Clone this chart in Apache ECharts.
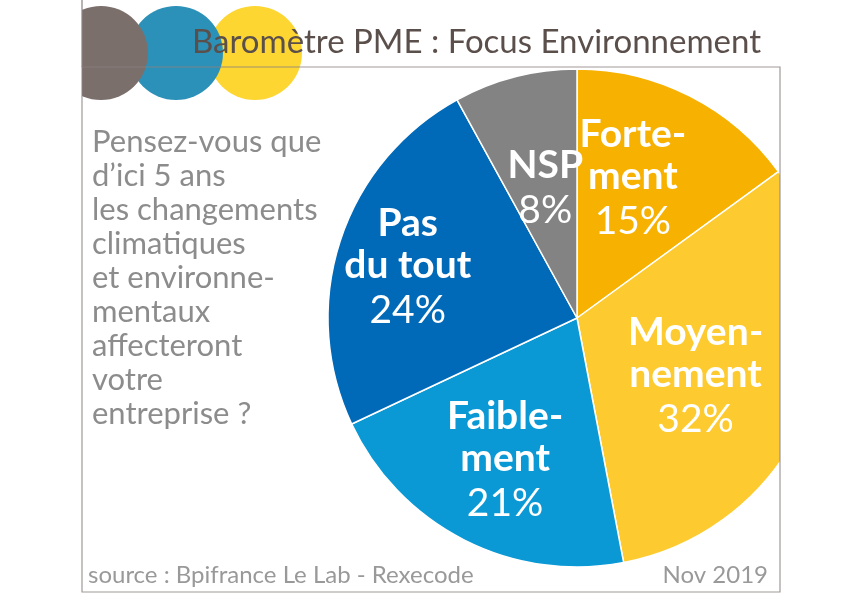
<!DOCTYPE html>
<html>
<head>
<meta charset="utf-8">
<script src="https://cdn.jsdelivr.net/npm/echarts@6/dist/echarts.min.js"></script>
</head>
<body style="margin:0">
<div id="main" style="width:858px;height:600px;"></div>
<script>
var names = ['Forte-\nment', 'Moyen-\nnement', 'Faible-\nment', 'Pas\ndu tout', 'NSP'];
var values = [15, 32, 21, 24, 8];
var colors = ['#f7b100', '#fdcb2f', '#0a99d5', '#0069b8', '#838383'];
var offsets = [[-2, -25], [0, 12], [-14, 30], [-48, -10], [0, -5]];

var data = names.map(function (n, i) {
    return {name: n, value: values[i], itemStyle: {color: colors[i]},
            label: {offset: offsets[i]}};
});

var chart = echarts.init(document.getElementById('main'));
chart.setOption({
    animation: false,
    series: [{
        type: 'pie',
        center: [577, 318],
        radius: 249,
        startAngle: 90,
        clockwise: true,
        avoidLabelOverlap: false,
        data: data,
        itemStyle: {borderColor: '#fff', borderWidth: 1.5},
        label: {
            position: 'inside',
            color: '#fff',
            formatter: function (p) { return '{b|' + p.name + '}\n{v|' + p.value + '%}'; },
            rich: {
                b: {fontSize: 39, fontWeight: 'bold', fontFamily: 'Lato', color: '#fff', lineHeight: 42, align: 'center'},
                v: {fontSize: 39, fontFamily: 'Lato', color: '#fff', lineHeight: 48, align: 'center'}
            }
        },
        labelLayout: {hideOverlap: false},
        labelLine: {show: false}
    }],
    graphic: [
        {type: 'circle', shape: {cx: 101, cy: 53, r: 47}, style: {fill: '#7b6f6c'}, z: 10},
        {type: 'circle', shape: {cx: 176, cy: 53, r: 47}, style: {fill: '#2c91b8'}, z: 9},
        {type: 'circle', shape: {cx: 255, cy: 53, r: 47}, style: {fill: '#fdd632'}, z: 8},
        {type: 'rect', shape: {x: 0, y: 0, width: 82, height: 600}, style: {fill: '#fff'}, z: 50},
        {type: 'rect', shape: {x: 780, y: 0, width: 78, height: 600}, style: {fill: '#fff'}, z: 50},
        {type: 'line', shape: {x1: 82, y1: 0, x2: 82, y2: 67}, style: {stroke: '#8a8080', lineWidth: 1.2}, z: 60},
        {type: 'rect', shape: {x: 82, y: 67, width: 698, height: 525}, style: {fill: 'none', stroke: '#8a8080', lineWidth: 1.2, opacity: 0.8}, z: 60},
        {type: 'text', left: 192, top: 26, z: 60, style: {text: 'Baromètre PME : Focus Environnement', fontSize: 33, fontFamily: 'Lato', fill: '#5b4f4b'}},
        {type: 'text', left: 92, top: 125, z: 60, style: {text: 'Pensez-vous que\nd\u2019ici 5 ans\nles changements\nclimatiques\net environne-\nmentaux\naffecteront\nvotre\nentreprise ?', fontSize: 31, lineHeight: 34, fontFamily: 'Lato', fill: '#8c8c8c'}},
        {type: 'text', left: 88, top: 563, z: 60, style: {text: 'source : Bpifrance Le Lab - Rexecode', fontSize: 24, fontFamily: 'Lato', fill: '#999'}},
        {type: 'text', right: 90, top: 563, z: 60, style: {text: 'Nov 2019', fontSize: 24, fontFamily: 'Lato', fill: '#999'}}
    ]
});
</script>
</body>
</html>
